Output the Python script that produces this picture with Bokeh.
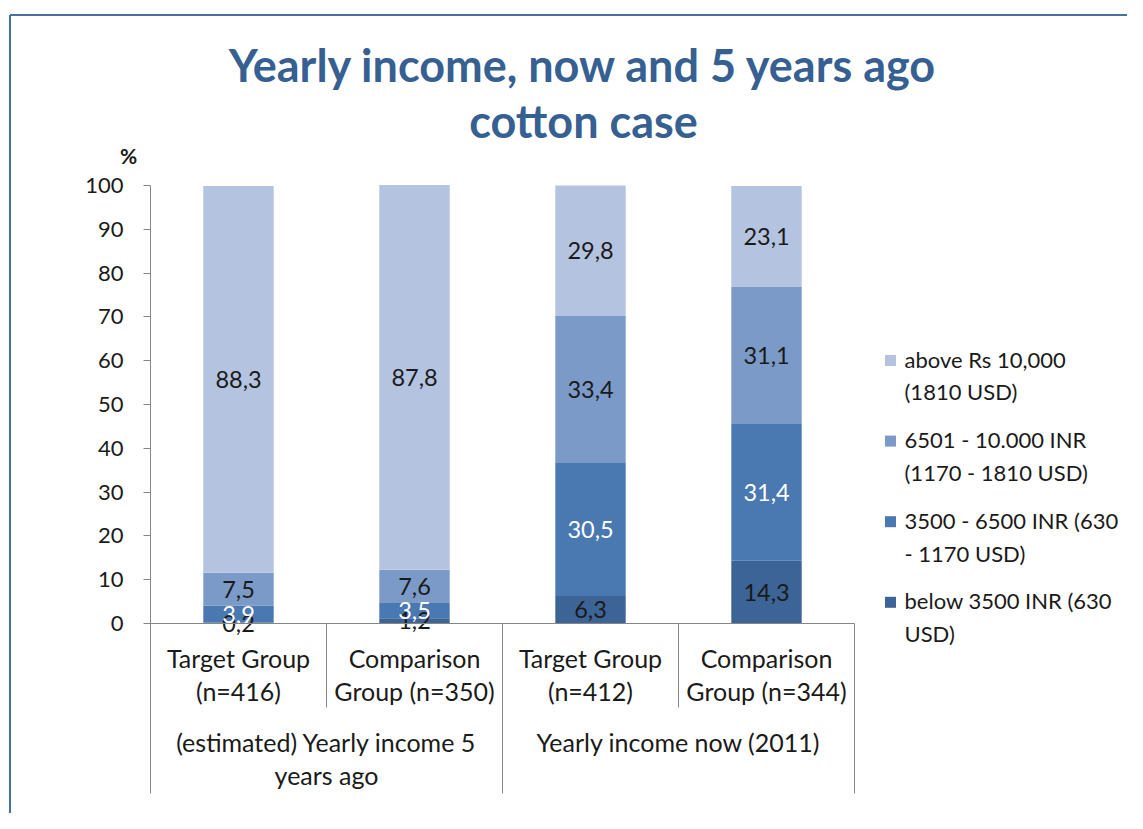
from bokeh.plotting import figure
from bokeh.models import ColumnDataSource, LinearAxis, FixedTicker, Range1d
from bokeh.core.properties import value
from bokeh.embed import file_html
from bokeh.resources import INLINE

# ---------------- data ----------------
categories = ["Target Group\n(n=416)", "Comparison\nGroup (n=350)",
              "Target Group\n(n=412)", "Comparison\nGroup (n=344)"]
groups = ["(estimated) Yearly income 5\nyears ago", "Yearly income now (2011)"]
series_names = ["below 3500 INR (630\nUSD)",
                "3500 - 6500 INR (630\n- 1170 USD)",
                "6501 - 10.000 INR\n(1170 - 1810 USD)",
                "above Rs 10,000\n(1810 USD)"]
below_3500 = [0.2, 1.2, 6.3, 14.3]
inr_3500_6500 = [3.9, 3.5, 30.5, 31.4]
inr_6501_10000 = [7.5, 7.6, 33.4, 31.1]
above_10000 = [88.3, 87.8, 29.8, 23.1]
y_ticks = list(range(0, 101, 10))
title_text = "Yearly income, now and 5 years ago\ncotton case"

# ---------------- style ----------------
FONT = "Lato"
colors = ["#3D6496", "#4A78B0", "#7B9AC8", "#B4C3DF"]
label_colors = ["#1a1a1a", "#ffffff", "#1a1a1a", "#1a1a1a"]
axis_gray = "#868686"
text_col = "#1a1a1a"

W, H = 1127, 813
PX_CAT = 176.0      # pixels per category
PX_PCT = 4.38       # pixels per percent
AX_LEFT = 150.0     # canvas x of value axis
ZERO = 623.0        # canvas y of 0 %


def px2x(px):
    return -0.5 + (px - AX_LEFT) / PX_CAT


def px2y(py):
    return (ZERO - py) / PX_PCT


p = figure(width=W, height=H, output_backend="svg", toolbar_location=None,
           x_range=Range1d(px2x(0), px2x(W)),
           y_range=Range1d(px2y(H), px2y(0)),
           x_axis_type=None, y_axis_type=None, min_border=0,
           outline_line_color=None, background_fill_color="white",
           border_fill_color="white")
p.xgrid.visible = False
p.ygrid.visible = False

xs = list(range(len(categories)))
series = [below_3500, inr_3500_6500, inr_6501_10000, above_10000]
keys = ["s0", "s1", "s2", "s3"]
src = ColumnDataSource(dict(x=xs, **{k: v for k, v in zip(keys, series)}))
renderers = p.vbar_stack(keys, x="x", width=0.4, color=colors,
                         line_color=None, source=src)

# data labels at segment centres
bottoms = [0.0] * len(xs)
for vals, lc in zip(series, label_colors):
    mids = [b + v / 2 for b, v in zip(bottoms, vals)]
    p.text(x=xs, y=mids, text=[str(v).replace(".", ",") for v in vals],
           text_color=lc, text_align="center", text_baseline="middle",
           text_font=value(FONT), text_font_size="23.5px")
    bottoms = [b + v for b, v in zip(bottoms, vals)]

# value axis
yaxis = LinearAxis(fixed_location=-0.5, ticker=FixedTicker(ticks=y_ticks),
                   bounds=(0, 100), axis_line_color=axis_gray,
                   major_tick_line_color=axis_gray, major_tick_out=7,
                   major_tick_in=0, minor_tick_line_color=None,
                   major_label_standoff=20,
                   major_label_text_font=FONT,
                   major_label_text_font_size="22px",
                   major_label_text_color=text_col)
p.add_layout(yaxis, "left")

# category axis: base line + dividers
n = len(xs)
p.segment(x0=[-0.5], y0=[0], x1=[n - 0.5], y1=[0], line_color=axis_gray,
          line_width=1)
div_x = [i - 0.5 for i in range(n + 1)]
div_y = [px2y(793) if i % 2 == 0 else px2y(707) for i in range(n + 1)]
p.segment(x0=div_x, y0=[0] * len(div_x), x1=div_x, y1=div_y,
          line_color=axis_gray, line_width=1)

p.text(x=xs, y=[px2y(642)] * n, text=categories, text_align="center",
       text_baseline="top", text_color=text_col, text_font=value(FONT),
       text_font_size="25px", text_line_height=1.1)
p.text(x=[0.5, 2.5], y=[px2y(726)] * 2, text=groups, text_align="center",
       text_baseline="top", text_color=text_col, text_font=value(FONT),
       text_font_size="25px", text_line_height=1.1)

# "%" unit label
p.text(x=[px2x(128)], y=[px2y(155)], text=["%"], text_align="center",
       text_baseline="middle", text_color=text_col, text_font=value(FONT),
       text_font_size="21px", text_font_style="bold")

# title
p.text(x=[px2x(583)], y=[px2y(37)], text=[title_text], text_align="center",
       text_baseline="top", text_color="#376092", text_font=value(FONT),
       text_font_size="45px", text_font_style="bold", text_line_height=1.04)

# chart border (left and top)
p.segment(x0=[px2x(9.5), px2x(9.5)], y0=[px2y(14.5), px2y(14.5)],
          x1=[px2x(9.5), px2x(W)], y1=[px2y(H), px2y(14.5)],
          line_color="#4470A8", line_width=2)

# legend (top entry = last series), square aligned with first text line
order = list(reversed(range(4)))
leg_y = [px2y(360 + 80.6 * k) for k in range(4)]
p.rect(x=[px2x(890)] * 4, y=leg_y, width=11, height=11,
       width_units="screen", height_units="screen",
       color=[colors[i] for i in order], line_color=None)
p.text(x=[px2x(904)] * 4, y=[px2y(360 + 80.6 * k - 15) for k in range(4)],
       text=[series_names[i] for i in order], text_align="left",
       text_baseline="top", text_color=text_col, text_font=value(FONT),
       text_font_size="22px", text_line_height=1.22)

open("out.html", "w").write(file_html(p, INLINE))
